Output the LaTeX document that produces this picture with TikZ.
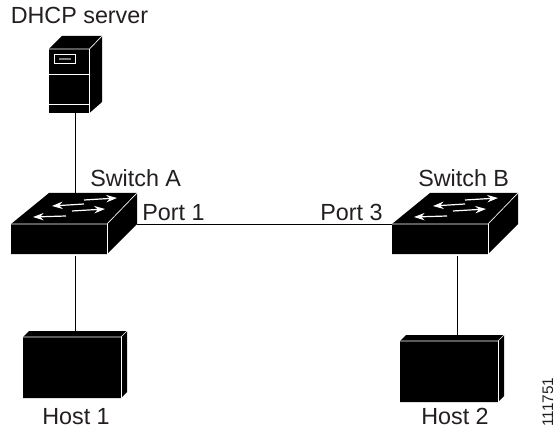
\documentclass[tikz,border=0pt]{standalone}
\usepackage{fontspec}
\setmainfont{Liberation Sans}
\usetikzlibrary{fit,arrows.meta}
\definecolor{inkgray}{HTML}{231F20}
\tikzset{
  wire/.style={line width=0.75pt, color=black},
  edge/.style={line width=0.5pt, color=white},
  flow/.style={line width=0.9pt, color=white, -{Stealth[length=8pt, width=5.5pt]}},
  slot/.style={fill=black, draw=white, line width=0.5pt},
  devbox/.style={inner sep=0pt, outer sep=0pt},
  lbl/.style={text=inkgray, font=\fontsize{17.5pt}{20pt}\selectfont, inner sep=0pt, anchor=base west}
}
\begin{document}
\begin{tikzpicture}[x=0.75pt, y=-0.75pt] %1 unit = 1 px of the reference
\useasboundingbox (0,0) rectangle (555,427);

%server
\fill[black] (49,49) -- (62,36) -- (102,36) -- (102,102) -- (89.5,113) -- (49,113) -- cycle;
\draw[edge] (49,49) -- (89.5,49) -- (102,36);
\draw[edge] (89.5,49) -- (89.5,113);
\draw[edge] (49,74) -- (89.5,74);
\draw[edge] (49,104) -- (89.5,104);
\draw[slot] (54,54) rectangle (75,63);
\draw[line width=1pt, color=gray] (59,59) -- (71,59);

%switches
\foreach \dx in {0,381} {
  \begin{scope}[shift={(\dx,0)}]
    \fill[black] (11,224) -- (49,193) -- (137,193) -- (137,224) -- (107,254) -- (11,254) -- cycle;
    \draw[edge] (11,224) -- (107,224) -- (137,193);
    \draw[edge] (107,224) -- (107,254);
    \draw[flow] (84,200) -- (117,198);
    \draw[flow] (84,204) -- (52,206);
    \draw[flow] (72,211) -- (105,209);
    \draw[flow] (66,216) -- (33,217);
  \end{scope}
}

%hosts
\foreach \dx/\dy in {0/0,377/4} {
  \begin{scope}[shift={(\dx,\dy)}]
    \fill[black] (23,337) -- (29,331) -- (127,331) -- (127,392) -- (121,398) -- (23,398) -- cycle;
    \draw[edge] (23,337) -- (121,337) -- (127,331);
    \draw[edge] (121,337) -- (121,398);
  \end{scope}
}

\node[devbox, fit={(49,36)(101,113)}] (srv) {};
\node[devbox, fit={(13,193)(137,256)}] (swA) {};
\node[devbox, fit={(392,193)(522,256)}] (swB) {};
\node[devbox, fit={(23,331)(127,398)}] (hostA) {};
\node[devbox, fit={(400,335)(514,402)}] (hostB) {};

\draw[wire] (srv) -- (swA);
\draw[wire] (swA) -- (hostA);
\draw[wire] (swA) -- (swB);
\draw[wire] (swB) -- (hostB);

\node[lbl] (srvlbl) at (10.5,24) {DHCP server};
\node[lbl] (swAlbl) at (90,187) {Switch A};
\node[lbl] (swBlbl) at (418,187) {Switch B};
\node[lbl] (portA) at (142,220) {Port 1};
\node[lbl] (portB) at (320,220) {Port 3};
\node[lbl] (hostAlbl) at (42,424) {Host 1};
\node[lbl] (hostBlbl) at (421,424) {Host 2};
\node[text=inkgray, font=\fontsize{11.5pt}{13pt}\selectfont, inner sep=0pt, anchor=base west, rotate=90] (figid) at (553,427) {111751};

\end{tikzpicture}
\end{document}
